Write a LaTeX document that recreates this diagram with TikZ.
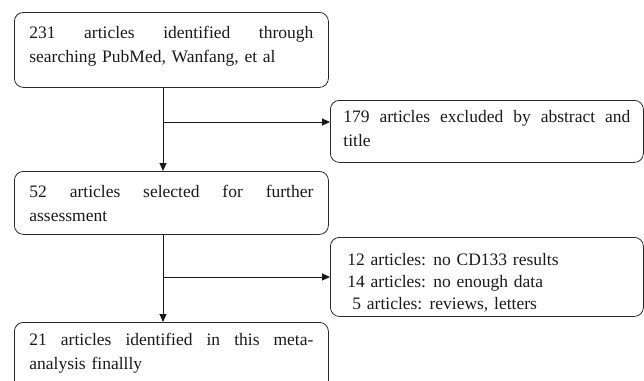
\documentclass[tikz,border=0pt]{standalone}
\usepackage{fontspec}
\setmainfont{Liberation Serif}
\usetikzlibrary{arrows.meta}
\newcommand{\mybox}[4]{\parbox[c][#1][t]{#2}{\hyphenpenalty=10000\spaceskip=0.33em plus 0.6em minus 0.05em\rule{0pt}{#3}#4}}
\begin{document}
\begin{tikzpicture}[x=1pt,y=-1pt,
  box/.style={draw=black!85, line width=0.8pt, rounded corners=9pt, anchor=north west,
    inner ysep=0pt, font=\fontsize{17.5}{24.5}\selectfont, text=black!90},
  conn/.style={draw=black!90, line width=1pt, -{Triangle[length=8pt,width=7pt]}},
  seg/.style={draw=black!90, line width=1pt}]
\clip (0,0) rectangle (644,380);
\node[box, inner xsep=15pt] (a) at (14,12)
  {\mybox{75pt}{284pt}{26pt}{231 articles identified through\linebreak searching PubMed, Wanfang, et al}};
\node[box, inner xsep=13pt] (b) at (330,100)
  {\mybox{62pt}{287pt}{22pt}{179 articles excluded by abstract and\linebreak title}};
\node[box, inner xsep=15pt] (c) at (14,171)
  {\mybox{63pt}{284pt}{26pt}{52 articles selected for further\linebreak assessment}};
\node[box, inner xsep=15pt] (d) at (14,322)
  {\mybox{75pt}{284pt}{23pt}{21 articles identified in this meta-\linebreak analysis finallly}};
\node[box, inner xsep=17pt] (e) at (330,237)
  {\mybox{79pt}{279pt}{28pt}{\raggedright\fontsize{17.5}{22}\selectfont 12 articles: no CD133 results\\
   14 articles: no enough data\\
   \hspace*{5pt}5 articles: reviews, letters}};
\coordinate (v1) at (163,122);
\coordinate (v2) at (163,277);
\draw[conn] (a.south -| v1) -- (c.north -| v1);
\draw[conn] (v1) -- (b.west |- v1);
\draw[conn] (c.south -| v2) -- (d.north -| v2);
\draw[conn] (v2) -- (e.west |- v2);
\end{tikzpicture}
\end{document}
